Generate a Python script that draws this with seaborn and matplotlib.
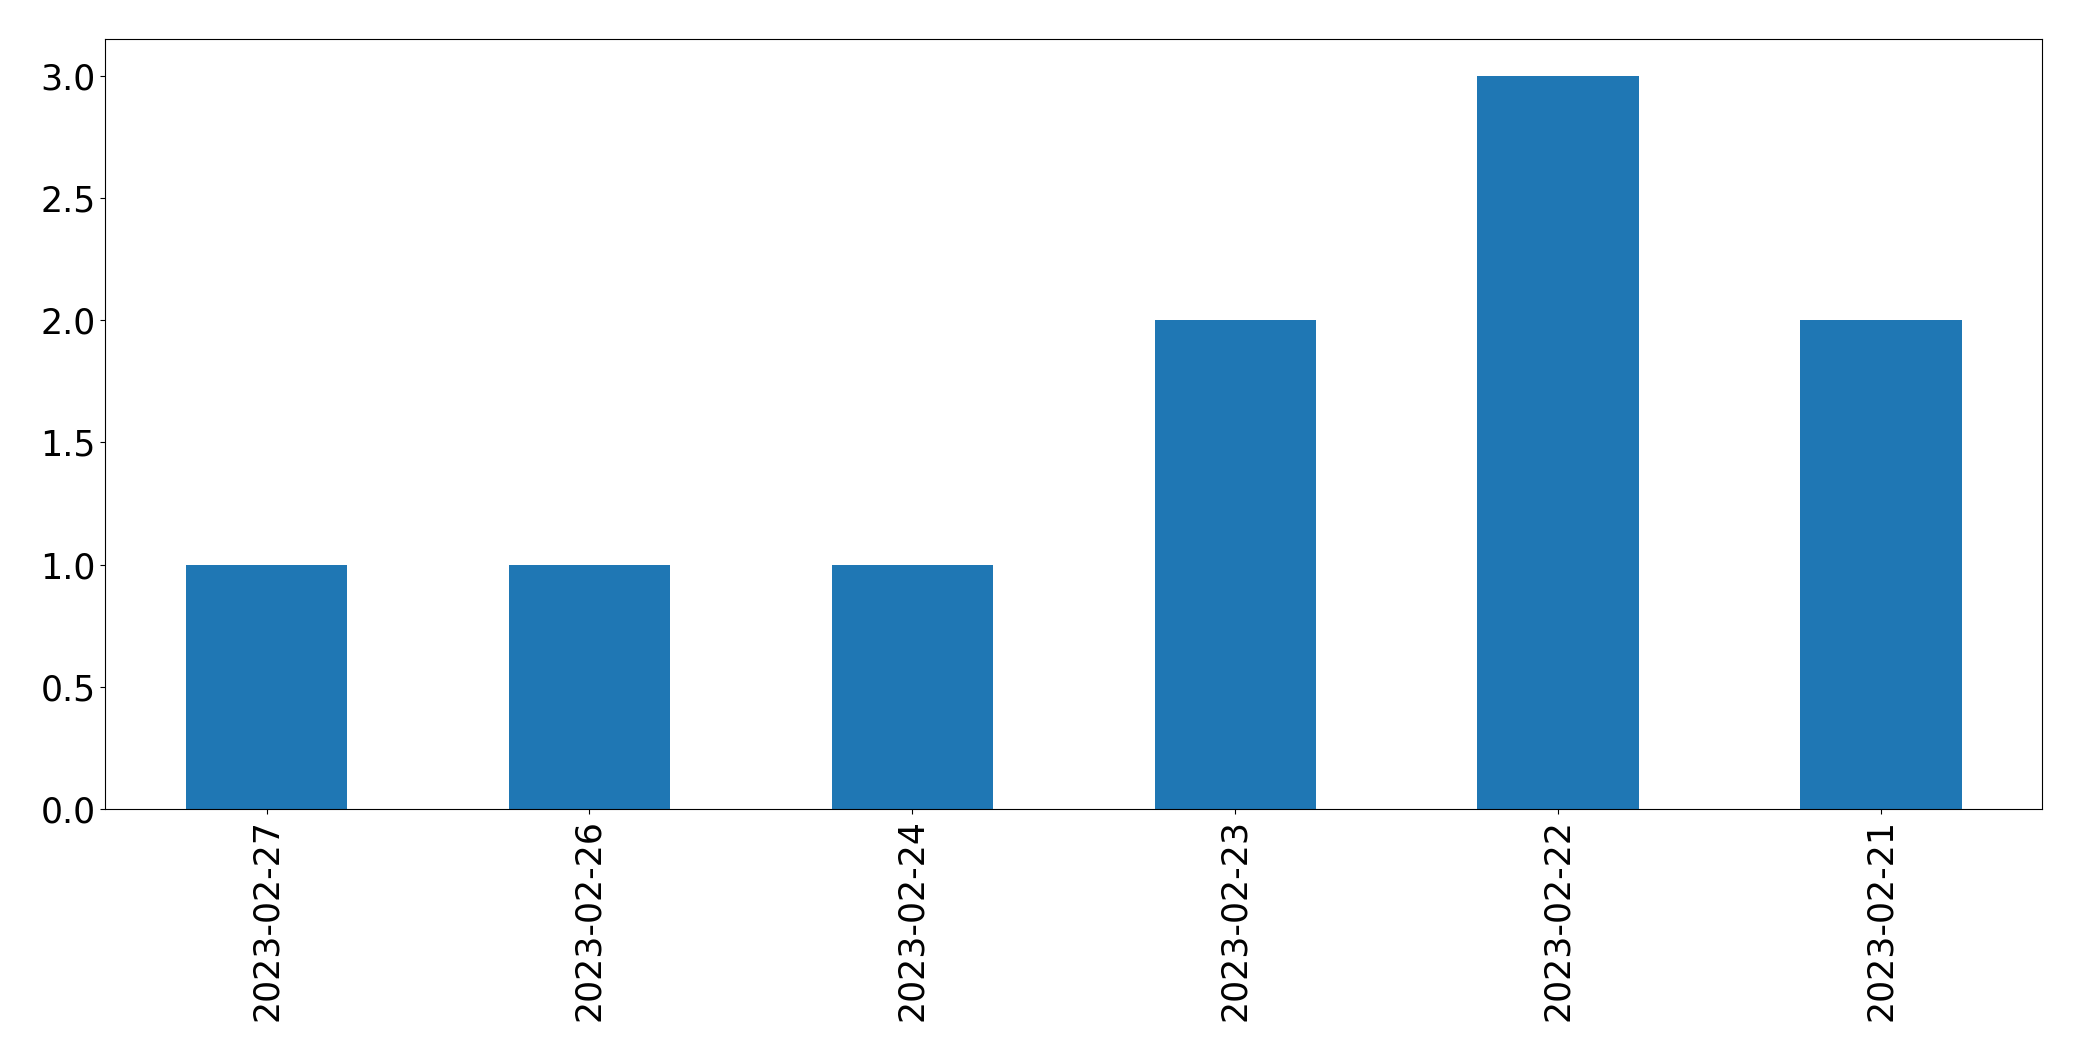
import pandas as pd
import seaborn as sns
from matplotlib import pyplot as plt

dates = ['2023-02-27', '2023-02-26', '2023-02-24', '2023-02-23', '2023-02-22', '2023-02-21']
counts = [1, 1, 1, 2, 3, 2]

df = pd.DataFrame({'date': dates, 'count': counts})

fig = plt.figure(figsize=(20.82, 10.61), dpi=100)
ax = fig.add_axes([0.0505, 0.2375, 0.9305, 0.7255])

sns.barplot(x='date', y='count', data=df, color='#1f77b4', saturation=1,
            width=0.5, order=dates, ax=ax, linewidth=0)

ax.set_xlim(-0.5, 5.5)
ax.set_ylim(0, 3.15)
ax.set_xlabel('')
ax.set_ylabel('')
ax.tick_params(axis='both', labelsize=25)
plt.setp(ax.get_xticklabels(), rotation=90)
for s in ax.spines.values():
    s.set_color('black')

fig.savefig('out.png', dpi=100)
